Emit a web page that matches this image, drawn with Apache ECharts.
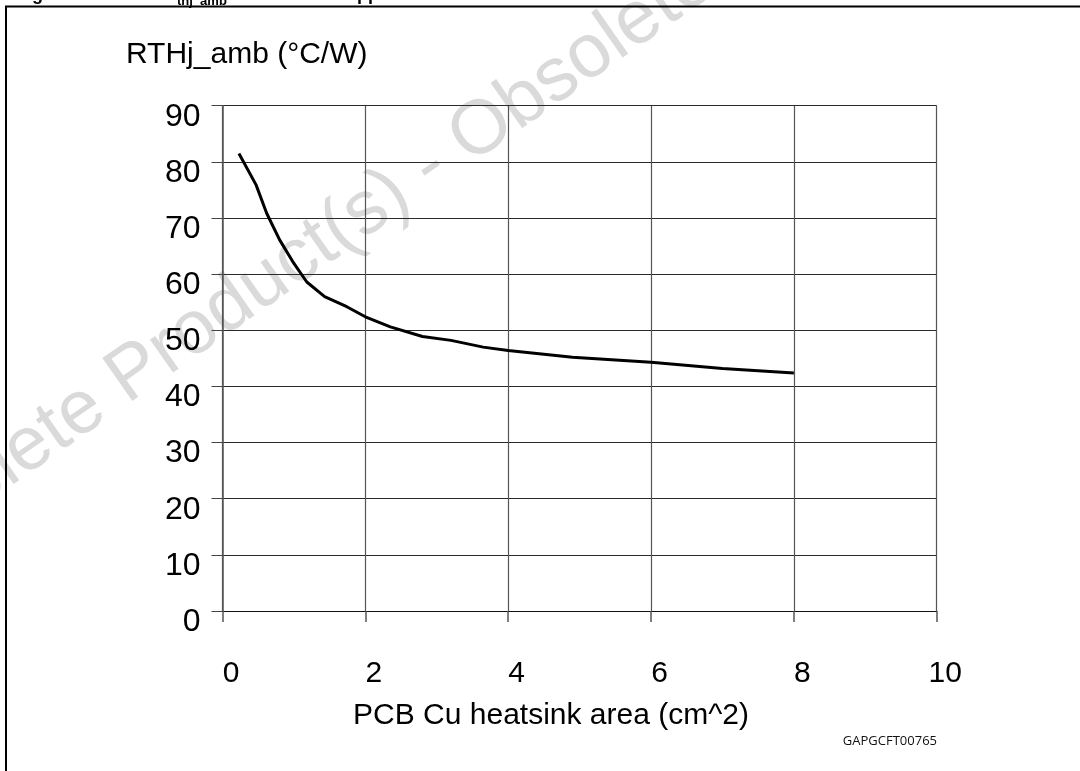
<!DOCTYPE html>
<html>
<head>
<meta charset="utf-8">
<script src="https://cdn.jsdelivr.net/npm/echarts@6/dist/echarts.min.js"></script>
<style>
  html, body { margin: 0; padding: 0; background: #fff; }
  #chart { width: 1080px; height: 771px; }
</style>
</head>
<body>
<div id="chart"></div>
<script>
// copper area (cm^2) and thermal resistance (°C/W)
const areaCm2 = [0.23, 0.47, 0.62, 0.8, 1.0, 1.18, 1.43, 1.74, 2.0, 2.35, 2.8, 3.2, 3.65, 4.0, 4.9, 6.0, 7.0, 8.0];
const rthAmb  = [81.5, 75.9, 70.8, 66.1, 61.9, 58.6, 56.0, 54.2, 52.4, 50.6, 48.9, 48.2, 47.0, 46.4, 45.2, 44.3, 43.2, 42.4];

const xTicks = [0, 2, 4, 6, 8, 10];
const yTicks = [0, 10, 20, 30, 40, 50, 60, 70, 80, 90];

const yTitle = 'RTHj_amb (°C/W)';
const xTitle = 'PCB Cu heatsink area (cm^2)';
const figCode = 'GAPGCFT00765';
const watermark = 'Obsolete Product(s) - Obsolete Product(s)';

const font = '"Liberation Sans", Arial, Helvetica, sans-serif';

const chart = echarts.init(document.getElementById('chart'));

const option = {
  animation: false,
  backgroundColor: '#fff',
  grid: { left: 222.5, right: 143.3, top: 105.7, bottom: 160, containLabel: false },
  xAxis: {
    type: 'value',
    min: xTicks[0],
    max: xTicks[xTicks.length - 1],
    interval: 2,
    axisLine: { show: true, onZero: false, lineStyle: { color: '#111', width: 1 } },
    axisTick: { show: true, length: 11, lineStyle: { color: '#555', width: 1.5 } },
    axisLabel: {
      color: '#000', fontSize: 30, fontFamily: font, margin: 48,
      padding: [0, 0, 0, 17]
    },
    splitLine: { show: true, lineStyle: { color: '#555', width: 1.2 } }
  },
  yAxis: {
    type: 'value',
    min: yTicks[0],
    max: yTicks[yTicks.length - 1],
    interval: 10,
    axisLine: { show: true, onZero: false, lineStyle: { color: '#555', width: 1.5 } },
    axisTick: { show: true, length: 11, lineStyle: { color: '#444', width: 1 } },
    axisLabel: {
      color: '#000', fontSize: 32, fontFamily: font, margin: 22,
      verticalAlign: 'top', lineHeight: 22
    },
    splitLine: { show: true, lineStyle: { color: '#2a2a2a', width: 1.2 } }
  },
  series: [{
    type: 'line',
    data: areaCm2.map((x, i) => [x, rthAmb[i]]),
    showSymbol: false,
    smooth: false,
    lineStyle: { color: '#000', width: 3 },
    z: 5
  }],
  graphic: [
    // watermark behind everything
    {
      type: 'text', x: 430, y: 167, rotation: 35 * Math.PI / 180, z: -10,
      silent: true,
      style: {
        text: watermark, fontSize: 76, fontFamily: font,
        fill: '#dadada', align: 'center', verticalAlign: 'middle'
      }
    },
    // outer frame (runs past the right / bottom edges)
    {
      type: 'rect', z: 10, silent: true,
      shape: { x: 6, y: 6.5, width: 1200, height: 900 },
      style: { fill: 'none', stroke: '#000', lineWidth: 2 }
    },
    // cut-off figure caption at the very top
    {
      type: 'text', x: 16, y: 4.5, z: 10,
      style: { text: 'Figure 7.', fontSize: 18, fontWeight: 'bold', fontFamily: font, fill: '#000', align: 'left', verticalAlign: 'bottom' }
    },
    {
      type: 'text', x: 163, y: 4.5, z: 10,
      style: { text: 'R', fontSize: 18, fontWeight: 'bold', fontFamily: font, fill: '#000', align: 'left', verticalAlign: 'bottom' }
    },
    {
      type: 'text', x: 177, y: 7.5, z: 10,
      style: { text: 'thj_amb', fontSize: 13, fontWeight: 'bold', fontFamily: font, fill: '#000', align: 'left', verticalAlign: 'bottom' }
    },
    {
      type: 'text', x: 258, y: 4.5, z: 10,
      style: { text: ' vs. PCB copper area', fontSize: 18, fontWeight: 'bold', fontFamily: font, fill: '#000', align: 'left', verticalAlign: 'bottom' }
    },
    // axis titles
    {
      type: 'text', x: 126, y: 55, z: 10,
      style: { text: yTitle, fontSize: 30, fontFamily: font, fill: '#000', align: 'left', verticalAlign: 'middle' }
    },
    {
      type: 'text', x: 551, y: 716, z: 10,
      style: { text: xTitle, fontSize: 30, fontFamily: font, fill: '#000', align: 'center', verticalAlign: 'middle' }
    },
    {
      type: 'text', x: 937, y: 741, z: 10,
      style: { text: figCode, fontSize: 13, fontFamily: '"Open Sans", "DejaVu Sans", sans-serif', fill: '#111', align: 'right', verticalAlign: 'middle' }
    }
  ]
};

chart.setOption(option);
</script>
</body>
</html>
